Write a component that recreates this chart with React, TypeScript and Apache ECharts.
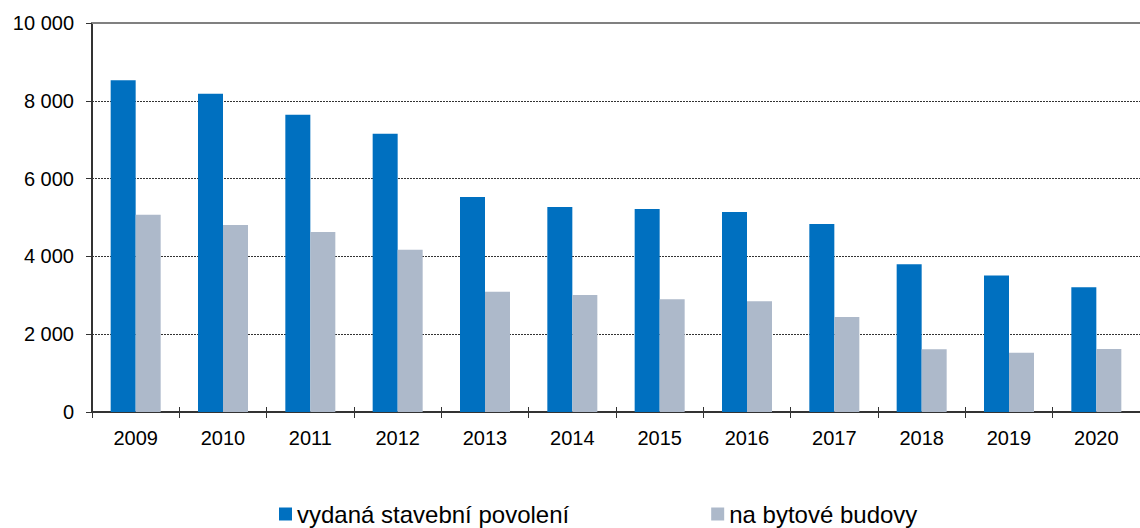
import React, { useEffect, useRef } from "react";
import * as echarts from "echarts";

const years = ["2009", "2010", "2011", "2012", "2013", "2014", "2015", "2016", "2017", "2018", "2019", "2020"];
const permits = [8530, 8180, 7640, 7150, 5530, 5270, 5220, 5140, 4830, 3800, 3510, 3210];
const residential = [5070, 4810, 4630, 4170, 3090, 3010, 2900, 2850, 2440, 1610, 1520, 1620];
const seriesNames = ["vydaná stavební povolení", "na bytové budovy"];

const fmt = (v: number) => String(v).replace(/\B(?=(\d{3})+(?!\d))/g, " ");

export default function App() {
  const ref = useRef<HTMLDivElement>(null);
  useEffect(() => {
    if (!ref.current) return;
    const chart = echarts.init(ref.current, null, { renderer: "svg" });
    chart.setOption({
      animation: false,
      textStyle: { fontFamily: "Liberation Sans, Arial, sans-serif" },
      legend: {
        top: 502,
        left: 279,
        padding: 0,
        itemGap: 142,
        itemWidth: 13,
        itemHeight: 13,
        icon: "rect",
        textStyle: { fontSize: 24, color: "#000" },
        data: seriesNames,
      },
      grid: { left: 92, right: 0, top: 23, bottom: 116 },
      xAxis: [
        {
          type: "category",
          data: years,
          axisLine: { lineStyle: { color: "#333", width: 2 } },
          axisTick: { show: true, alignWithLabel: false, length: 6, lineStyle: { color: "#333" } },
          axisLabel: { fontSize: 20, color: "#000", margin: 16 },
        },
        {
          type: "category",
          data: years,
          position: "top",
          axisLine: { show: true, lineStyle: { color: "#808080", width: 2 } },
          axisTick: { show: false },
          axisLabel: { show: false },
        },
        {
          type: "category",
          data: years,
          position: "bottom",
          axisLine: { show: false },
          axisTick: { show: true, inside: true, length: 5, lineStyle: { color: "#333" } },
          axisLabel: { show: false },
        },
      ],
      yAxis: {
        type: "value",
        min: 0,
        max: 10000,
        interval: 2000,
        axisLine: { show: true, lineStyle: { color: "#333", width: 2 } },
        axisTick: { show: true, length: 6, lineStyle: { color: "#333" } },
        axisLabel: { fontSize: 20, color: "#000", margin: 18, formatter: fmt },
        splitLine: { show: true, lineStyle: { color: "#333", type: [2, 1], width: 1 } },
      },
      series: [
        {
          name: seriesNames[0],
          type: "bar",
          data: permits,
          barWidth: 25,
          barGap: "0%",
          itemStyle: { color: "#0070C0" },
        },
        {
          name: seriesNames[1],
          type: "bar",
          data: residential,
          barWidth: 25,
          itemStyle: { color: "#ADB9CA" },
        },
      ],
    });
    return () => chart.dispose();
  }, []);
  return <div ref={ref} style={{ width: 1140, height: 528, position: "absolute", left: 0, top: 0 }} />;
}
